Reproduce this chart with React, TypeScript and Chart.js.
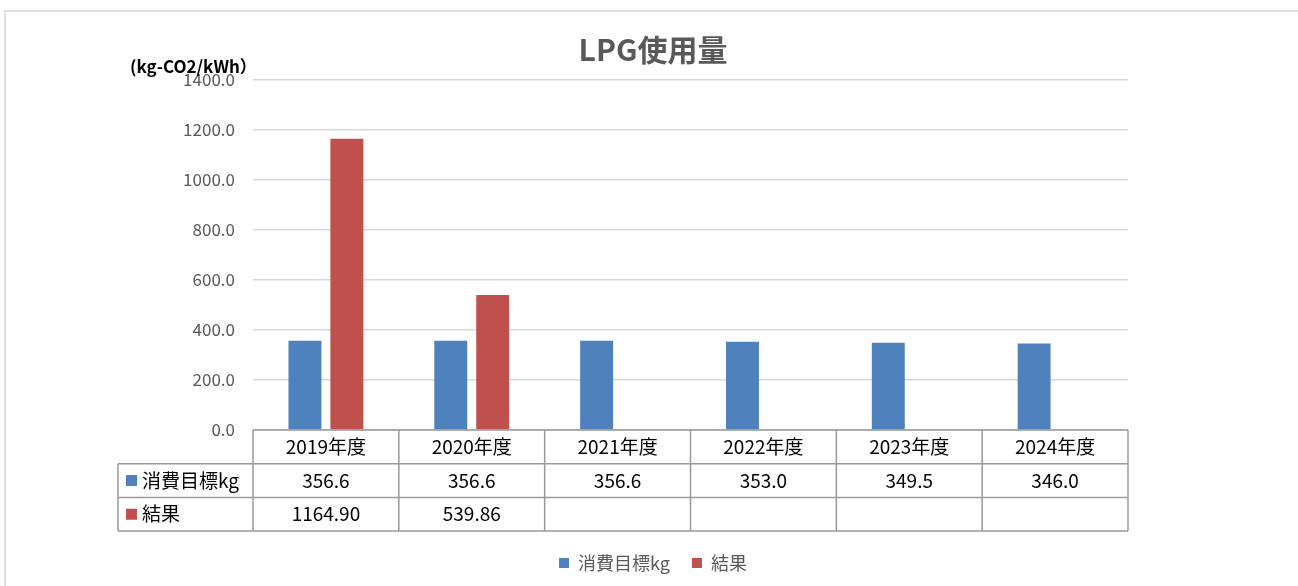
import React, { useEffect, useRef } from "react";
import { Chart, registerables } from "chart.js";

Chart.register(...registerables);

const categories = ["2019年度", "2020年度", "2021年度", "2022年度", "2023年度", "2024年度"];
const goalLabel = "消費目標kg";
const resultLabel = "結果";
const goalValues: number[] = [356.6, 356.6, 356.6, 353.0, 349.5, 346.0];
const resultValues: (number | null)[] = [1164.9, 539.86, null, null, null, null];
const yMin = 0;
const yMax = 1400;
const yStep = 200;
const titleText = "LPG使用量";
const unitText = "(kg-CO2/kWh）";

const BLUE = "#4f81bd";
const RED = "#c0504d";
const FONT = "'Noto Sans CJK JP', 'Noto Sans', sans-serif";

const tablePlugin = {
  id: "dataTable",
  afterDraw(chart: any) {
    const ctx = chart.ctx as CanvasRenderingContext2D;
    const area = chart.chartArea;
    const xs = chart.scales.x;
    const n = categories.length;
    const colW = (area.right - area.left) / n;
    const rowH = 33.7;
    const top = area.bottom;
    const leftCol = area.left - 135;
    ctx.save();
    ctx.strokeStyle = "#9a9a9a";
    ctx.lineWidth = 1.5;
    ctx.beginPath();
    ctx.moveTo(area.left, top);
    ctx.lineTo(area.right, top);
    for (let r = 1; r <= 3; r++) {
      ctx.moveTo(leftCol, top + r * rowH);
      ctx.lineTo(area.right, top + r * rowH);
    }
    for (let i = 0; i <= n; i++) {
      const x = area.left + i * colW;
      ctx.moveTo(x, top);
      ctx.lineTo(x, top + 3 * rowH);
    }
    ctx.moveTo(leftCol, top + rowH);
    ctx.lineTo(leftCol, top + 3 * rowH);
    ctx.stroke();

    ctx.fillStyle = "#000000";
    ctx.font = `19px ${FONT}`;
    ctx.textAlign = "center";
    ctx.textBaseline = "middle";
    for (let i = 0; i < n; i++) {
      const cx = xs.getPixelForValue(i);
      ctx.fillText(categories[i], cx, top + rowH / 2);
      const g = goalValues[i];
      if (g !== null && g !== undefined) ctx.fillText(g.toFixed(1), cx, top + rowH * 1.5);
      const r = resultValues[i];
      if (r !== null && r !== undefined) ctx.fillText(r.toFixed(2), cx, top + rowH * 2.5);
    }
    const rows: [string, string][] = [
      [goalLabel, BLUE],
      [resultLabel, RED],
    ];
    rows.forEach(([label, color], k) => {
      const cy = top + rowH * (1.5 + k);
      ctx.fillStyle = color;
      ctx.fillRect(leftCol + 8, cy - 5.5, 11, 11);
      ctx.fillStyle = "#000000";
      ctx.textAlign = "left";
      ctx.fillText(label, leftCol + 24, cy);
    });

    ctx.font = `bold 17px ${FONT}`;
    ctx.fillStyle = "#000000";
    ctx.textAlign = "left";
    ctx.textBaseline = "middle";
    ctx.fillText(unitText, area.left - 123, area.top - 13);
    ctx.restore();
  },
};

export default function App() {
  const ref = useRef<HTMLCanvasElement | null>(null);
  useEffect(() => {
    if (!ref.current) return;
    const chart = new Chart(ref.current, {
      type: "bar",
      data: {
        labels: categories,
        datasets: [
          {
            label: goalLabel,
            data: goalValues,
            backgroundColor: BLUE,
            categoryPercentage: 0.575,
            barPercentage: 0.786,
          },
          {
            label: resultLabel,
            data: resultValues,
            backgroundColor: RED,
            categoryPercentage: 0.575,
            barPercentage: 0.786,
          },
        ],
      },
      options: {
        responsive: false,
        animation: false,
        layout: { padding: { left: 8, right: 0, top: 0, bottom: 4 } },
        plugins: {
          title: {
            display: true,
            text: titleText,
            color: "#595959",
            font: { family: FONT, size: 30, weight: "bold" },
            padding: { top: 32, bottom: 12 },
          },
          legend: {
            position: "bottom",
            labels: {
              boxWidth: 10,
              boxHeight: 10,
              padding: 22,
              color: "#595959",
              font: { family: FONT, size: 18 },
            },
          },
          tooltip: { enabled: false },
        },
        scales: {
          x: {
            grid: { display: false },
            border: { display: false },
            ticks: { display: false },
            afterFit: (scale: any) => {
              scale.height = 102;
            },
          },
          y: {
            min: yMin,
            max: yMax,
            grid: { color: "#d9d9d9", drawTicks: false, lineWidth: 1.5 },
            border: { display: false },
            ticks: {
              stepSize: yStep,
              padding: 18,
              color: "#595959",
              font: { family: FONT, size: 17 },
              callback: (v: any) => Number(v).toFixed(1),
            },
            afterFit: (scale: any) => {
              scale.width = 245;
            },
          },
          y2: {
            position: "right",
            display: true,
            grid: { display: false },
            border: { display: false },
            ticks: { display: false },
            afterFit: (scale: any) => {
              scale.width = 170;
            },
          },
        },
      },
      plugins: [tablePlugin],
    });
    return () => chart.destroy();
  }, []);

  return (
    <div style={{ position: "absolute", left: 0, top: 0, width: 1298, height: 586, overflow: "hidden", background: "#ffffff" }}>
      <div
        style={{
          position: "absolute",
          left: 4,
          top: 10,
          right: -10,
          bottom: -10,
          borderTop: "2px solid #e0e0e0",
          borderLeft: "2px solid #e0e0e0",
        }}
      />
      <canvas ref={ref} width={1298} height={586} style={{ position: "absolute", left: 0, top: 0 }} />
    </div>
  );
}
